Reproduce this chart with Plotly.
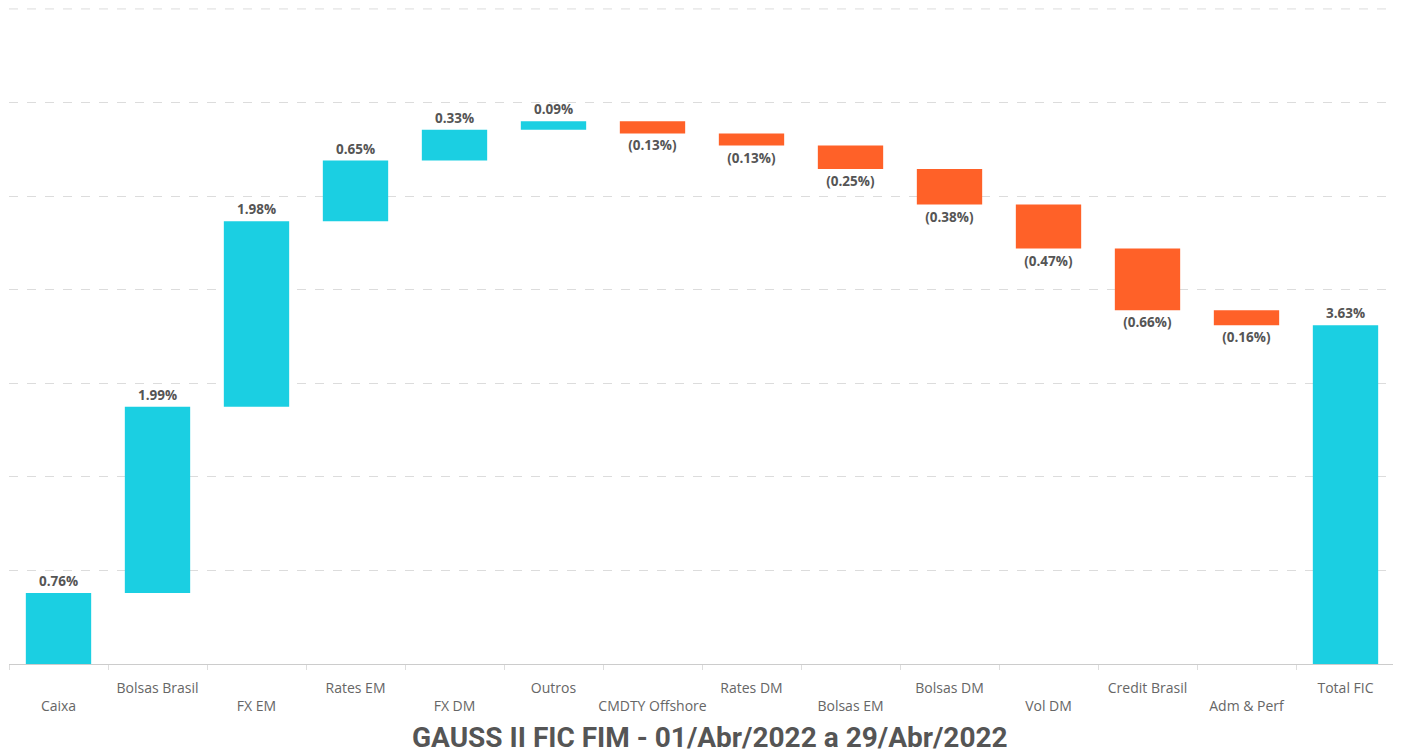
import plotly.graph_objects as go

categories = ["Caixa", "Bolsas Brasil", "FX EM", "Rates EM", "FX DM", "Outros",
              "CMDTY Offshore", "Rates DM", "Bolsas EM", "Bolsas DM", "Vol DM",
              "Credit Brasil", "Adm & Perf", "Total FIC"]
values = [0.76, 1.99, 1.98, 0.65, 0.33, 0.09, -0.13, -0.13, -0.25, -0.38, -0.47, -0.66, -0.16, 3.63]
measures = ["relative"] * 13 + ["total"]
title_text = "GAUSS II FIC FIM - 01/Abr/2022 a 29/Abr/2022"
y_max = 7

labels = [f"{v:.2f}%" if v >= 0 else f"({abs(v):.2f}%)" for v in values]
ticktext = [("<br>" + c) if i % 2 == 0 else c for i, c in enumerate(categories)]

fig = go.Figure(go.Waterfall(
    x=categories,
    y=values,
    measure=measures,
    text=labels,
    textposition="outside",
    textfont=dict(family="Open Sans", size=13.5, color="#555555", weight="bold"),
    width=[0.66] * len(categories),
    increasing=dict(marker=dict(color="#1BCFE2")),
    decreasing=dict(marker=dict(color="#FF6128")),
    totals=dict(marker=dict(color="#1BCFE2")),
    connector=dict(visible=False),
    cliponaxis=False,
))

fig.update_layout(
    width=1393, height=745,
    margin=dict(l=1, r=6, t=0, b=89, autoexpand=False),
    paper_bgcolor="white", plot_bgcolor="white",
    showlegend=False,
    font=dict(family="Open Sans", color="#666666", size=14),
    xaxis=dict(
        type="category",
        tickvals=categories, ticktext=ticktext,
        tickangle=0, automargin=False,
        tickson="boundaries", ticks="outside", ticklen=5, tickcolor="#dddddd",
        ticklabelstandoff=11,
        showline=True, linecolor="#cccccc", linewidth=1,
        showgrid=False,
        tickfont=dict(family="Open Sans", size=14, color="#666666"),
    ),
    yaxis=dict(
        range=[0, 7.01], dtick=1, showticklabels=False, automargin=False,
        showgrid=True, gridcolor="#dcdcdc", griddash="dash", gridwidth=1,
        zeroline=False,
    ),
    shapes=[dict(
        type="line", xref="paper", yref="y", x0=0, x1=1, y0=y_max, y1=y_max,
        line=dict(color="#dcdcdc", width=1, dash="dash"), layer="below",
    )],
    annotations=[dict(
        text=f"<b>{title_text}</b>", xref="paper", yref="paper",
        x=0.506, y=-0.112, xanchor="center", yanchor="middle", showarrow=False,
        font=dict(family="Roboto", size=28, color="#555555"),
    )],
)

fig.write_html("out.html")
